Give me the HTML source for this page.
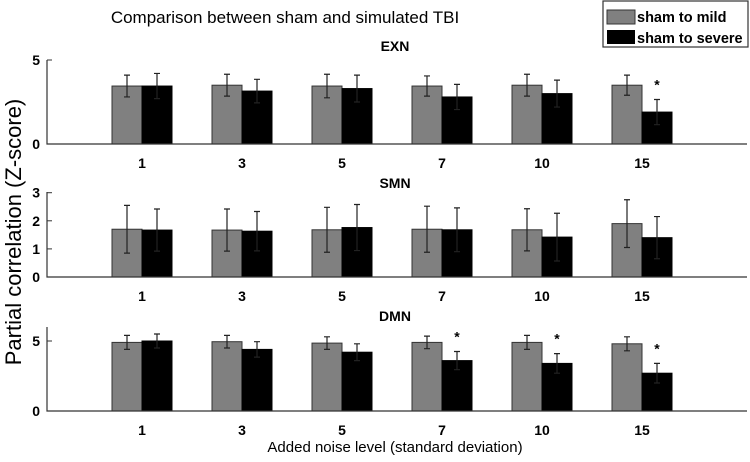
<!DOCTYPE html>
<html><head><meta charset="utf-8"><style>
body{margin:0;background:#fff;width:750px;height:457px;overflow:hidden}
text{font-family:"Liberation Sans",sans-serif}
</style></head><body>
<svg id="chart" width="750" height="457" xmlns="http://www.w3.org/2000/svg"></svg>
<script>
const categories = ["1","3","5","7","10","15"];
const panelNames = ["EXN","SMN","DMN"];
const exnMild = [3.45,3.5,3.45,3.45,3.5,3.5];
const exnMildErr = [0.65,0.65,0.7,0.6,0.65,0.6];
const exnSevere = [3.45,3.15,3.3,2.8,3.0,1.9];
const exnSevereErr = [0.75,0.7,0.8,0.75,0.8,0.75];
const smnMild = [1.7,1.67,1.68,1.7,1.68,1.9];
const smnMildErr = [0.85,0.75,0.8,0.82,0.75,0.85];
const smnSevere = [1.67,1.63,1.76,1.68,1.42,1.4];
const smnSevereErr = [0.75,0.7,0.82,0.78,0.85,0.75];
const dmnMild = [4.9,4.95,4.85,4.9,4.9,4.8];
const dmnMildErr = [0.5,0.45,0.45,0.45,0.5,0.5];
const dmnSevere = [5.0,4.4,4.2,3.6,3.4,2.7];
const dmnSevereErr = [0.5,0.55,0.6,0.65,0.7,0.7];
const exnTicks = [0,5];
const smnTicks = [0,1,2,3];
const dmnTicks = [0,5];
const exnSig = [false,false,false,false,false,true];
const smnSig = [false,false,false,false,false,false];
const dmnSig = [false,false,false,true,true,true];

const svg = document.getElementById('chart');
const NS = "http://www.w3.org/2000/svg";
function mk(tag, attrs, parent){const e=document.createElementNS(NS,tag);for(const k in attrs)e.setAttribute(k,attrs[k]);(parent||svg).appendChild(e);return e;}
function txt(s, attrs){const e=mk('text',attrs);e.textContent=s;return e;}

const panels = [
 {name:"EXN",mild:exnMild,mErr:exnMildErr,sev:exnSevere,sErr:exnSevereErr,ticks:exnTicks,sig:exnSig,y0:144,yTop:60,max:5,axTop:60,titleY:51,labY:168},
 {name:"SMN",mild:smnMild,mErr:smnMildErr,sev:smnSevere,sErr:smnSevereErr,ticks:smnTicks,sig:smnSig,y0:277,yTop:192.7,max:3,axTop:192,titleY:188,labY:301},
 {name:"DMN",mild:dmnMild,mErr:dmnMildErr,sev:dmnSevere,sErr:dmnSevereErr,ticks:dmnTicks,sig:dmnSig,y0:411,yTop:341,max:5,axTop:327,titleY:321,labY:435}
];
const xScale = i => 142 + 100*i;
const bw = 30;

panels.forEach((p,pi)=>{
  const g = mk('g',{});
  
  
  const y = v => p.y0 - (p.y0-p.yTop)*v/p.max;
  const t = txt(p.name,{x:395,y:p.titleY,'text-anchor':'middle','font-size':14,'font-weight':'bold'});
  
  
  categories.forEach((c,i)=>{
    const cx = xScale(i);
    const b1 = mk('rect',{x:cx-bw,y:y(p.mild[i]),width:bw,height:p.y0-y(p.mild[i]),fill:'#808080',stroke:'#333','stroke-width':1});
    
    
    const b2 = mk('rect',{x:cx,y:y(p.sev[i]),width:bw,height:p.y0-y(p.sev[i]),fill:'#000',stroke:'#000','stroke-width':1});
    
    
    [[cx-bw/2,p.mild[i],p.mErr[i]],[cx+bw/2,p.sev[i],p.sErr[i]]].forEach(([ex,v,e])=>{
      const eb = mk('path',{d:`M${ex},${y(v-e)}V${y(v+e)}M${ex-3},${y(v-e)}H${ex+3}M${ex-3},${y(v+e)}H${ex+3}`,stroke:'#222','stroke-width':1.2,fill:'none'});
      
      
    });
    if(p.sig[i]){
      const s = txt('*',{x:cx+bw/2,y:y(p.sev[i]+p.sErr[i])-10,'text-anchor':'middle','font-size':14,'font-weight':'bold'});
      
      
    }
    const l = txt(c,{x:cx,y:p.labY,'text-anchor':'middle','font-size':14,'font-weight':'bold'});
    
    
  });
  const ax = mk('path',{d:`M47,${p.axTop}V${p.y0}H747`,stroke:'#333','stroke-width':1.2,fill:'none'});
  
  
  p.ticks.forEach(tv=>{
    mk('path',{d:`M47,${y(tv)}H52`,stroke:'#333','stroke-width':1});
    const tl = txt(String(tv),{x:40,y:y(tv)+5,'text-anchor':'end','font-size':14,'font-weight':'bold'});
    
    
  });
});
</script>
<svg style="position:absolute;left:0;top:0" width="750" height="457" xmlns="http://www.w3.org/2000/svg">
<text x="285" y="23" text-anchor="middle" font-size="17">Comparison between sham and simulated TBI</text>
<text x="395" y="452" text-anchor="middle" font-size="15">Added noise level (standard deviation)</text>
<text transform="translate(21,232) rotate(-90)" text-anchor="middle" font-size="22">Partial correlation (Z-score)</text>
<g>
<rect x="603" y="1" width="145" height="46" fill="#fff" stroke="#333" stroke-width="1.2"/>
<rect x="607" y="10" width="28" height="14" fill="#808080" stroke="#333"/>
<text x="637" y="22" font-size="14.5" font-weight="bold">sham to mild</text>
<rect x="607" y="30" width="28" height="14" fill="#000"/>
<text x="637" y="43" font-size="14.5" font-weight="bold">sham to severe</text>
</g>
</svg>
</body></html>
